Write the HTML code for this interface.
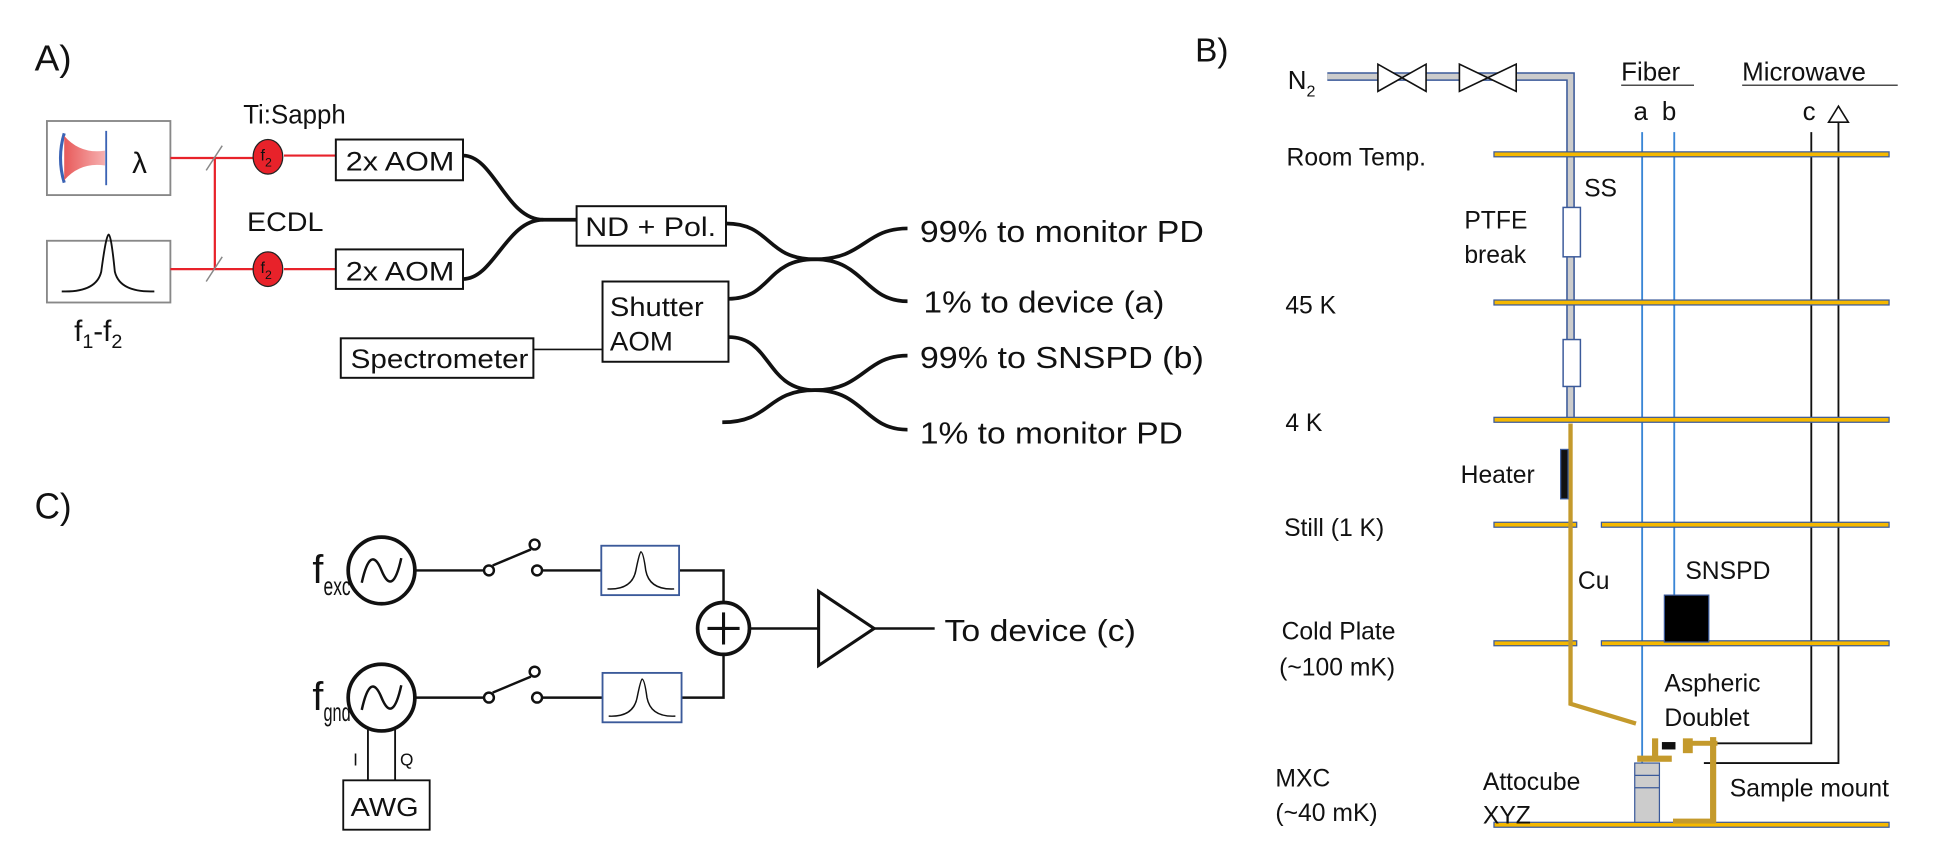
<!DOCTYPE html>
<html><head><meta charset="utf-8"><style>
html,body{margin:0;padding:0;background:#fff;}
svg{display:block;}
text{font-family:"Liberation Sans",sans-serif;fill:#111;}
</style></head><body>
<svg width="1936" height="867" viewBox="0 0 1568 702.2" xmlns="http://www.w3.org/2000/svg">
<defs>
<linearGradient id="beam" x1="0" x2="1"><stop offset="0" stop-color="#e85a5a"/><stop offset="1" stop-color="#f6b0b0"/></linearGradient>
</defs>
<!-- Panel A -->
<text x="28" y="57" font-size="29" textLength="30" lengthAdjust="spacingAndGlyphs">A)</text>
<rect x="38" y="98" width="100" height="60" fill="#fff" stroke="#888" stroke-width="1.5"/>
<path d="M52 108 Q46 128 52 148" fill="none" stroke="#3b63b5" stroke-width="2.5"/>
<path d="M52 110 Q65 125 85 122 L85 134 Q65 131 52 146 Z" fill="url(#beam)"/>
<line x1="86" y1="106" x2="86" y2="150" stroke="#3b63b5" stroke-width="1.5"/>
<text x="107" y="140" font-size="24">λ</text>
<rect x="38" y="195" width="100" height="50" fill="#fff" stroke="#888" stroke-width="1.5"/>
<path d="M50 236 Q78 237 82 220 Q86 190 88 190 Q90 190 93 220 Q97 237 125 236" fill="none" stroke="#111" stroke-width="1.5"/>
<text x="60" y="276" font-size="24">f<tspan font-size="16" dy="6">1</tspan><tspan dy="-6">-f</tspan><tspan font-size="16" dy="6">2</tspan></text>
<g stroke="#e8222a" stroke-width="1.8" fill="none">
<line x1="138" y1="128" x2="205" y2="128"/><line x1="174" y1="128" x2="174" y2="218"/>
<line x1="138" y1="218" x2="205" y2="218"/><line x1="230" y1="126" x2="272" y2="126"/><line x1="230" y1="218" x2="272" y2="218"/>
</g>
<line x1="167" y1="138" x2="180" y2="118" stroke="#888" stroke-width="1.2"/>
<line x1="167" y1="228" x2="180" y2="208" stroke="#888" stroke-width="1.2"/>
<ellipse cx="217" cy="127" rx="12" ry="14" fill="#e8222a" stroke="#222"/>
<ellipse cx="217" cy="218" rx="12" ry="14" fill="#e8222a" stroke="#222"/>
<text x="211" y="130" font-size="13">f<tspan font-size="10" dy="5">2</tspan></text>
<text x="211" y="221" font-size="13">f<tspan font-size="10" dy="5">2</tspan></text>
<text x="197" y="100" font-size="22" textLength="83" lengthAdjust="spacingAndGlyphs">Ti:Sapph</text>
<text x="200" y="187" font-size="22" textLength="62" lengthAdjust="spacingAndGlyphs">ECDL</text>
<g fill="#fff" stroke="#111" stroke-width="1.6">
<rect x="272" y="113" width="103" height="33"/><rect x="272" y="202" width="103" height="32"/>
<rect x="467" y="167" width="121" height="32"/><rect x="276" y="274" width="156" height="32"/>
<rect x="488" y="228" width="102" height="65"/>
</g>
<g font-size="22" lengthAdjust="spacingAndGlyphs">
<text x="280" y="138" textLength="88" lengthAdjust="spacingAndGlyphs">2x AOM</text>
<text x="280" y="227" textLength="88" lengthAdjust="spacingAndGlyphs">2x AOM</text>
<text x="474" y="191" textLength="106" lengthAdjust="spacingAndGlyphs">ND + Pol.</text>
<text x="284" y="298" textLength="144" lengthAdjust="spacingAndGlyphs">Spectrometer</text>
<text x="494" y="256" textLength="76" lengthAdjust="spacingAndGlyphs">Shutter</text>
<text x="494" y="284" textLength="51" lengthAdjust="spacingAndGlyphs">AOM</text>
</g>
<line x1="432" y1="283" x2="488" y2="283" stroke="#111" stroke-width="1.3"/>
<g fill="none" stroke="#111" stroke-width="3">
<path d="M375 126 C400 126 410 178 440 178 L467 178"/>
<path d="M375 226 C400 226 410 178 440 178"/>
<path d="M588 181 C625 181 620 210 660 210 C700 210 700 185 735 185"/>
<path d="M590 242 C625 242 620 210 660 210 C700 210 700 244 735 244"/>
<path d="M590 273 C625 273 620 316 660 316 C700 316 700 288 735 288"/>
<path d="M585 342 C625 342 620 316 660 316 C700 316 700 348 735 348"/>
</g>
<g font-size="25">
<text x="745" y="196" textLength="230" lengthAdjust="spacingAndGlyphs">99% to monitor PD</text>
<text x="748" y="253" textLength="195" lengthAdjust="spacingAndGlyphs">1% to device (a)</text>
<text x="745" y="298" textLength="230" lengthAdjust="spacingAndGlyphs">99% to SNSPD (b)</text>
<text x="745" y="359" textLength="213" lengthAdjust="spacingAndGlyphs">1% to monitor PD</text>
</g>
<!-- Panel C -->
<text x="28" y="420" font-size="29" textLength="30" lengthAdjust="spacingAndGlyphs">C)</text>
<g fill="none" stroke="#111" stroke-width="2">
<circle cx="309" cy="462" r="27" stroke-width="3"/><circle cx="309" cy="565" r="27" stroke-width="3"/>
<path d="M293 472 Q300 440 309 462 Q318 484 325 452"/>
<path d="M293 575 Q300 543 309 565 Q318 587 325 555"/>
<line x1="336" y1="462" x2="392" y2="462"/><line x1="439" y1="462" x2="487" y2="462"/>
<line x1="336" y1="565" x2="392" y2="565"/><line x1="439" y1="565" x2="488" y2="565"/>
<circle cx="396" cy="462" r="4"/><circle cx="435" cy="462" r="4"/><circle cx="433" cy="441" r="4"/>
<circle cx="396" cy="565" r="4"/><circle cx="435" cy="565" r="4"/><circle cx="433" cy="544" r="4"/>
<line x1="399" y1="458" x2="430" y2="445"/><line x1="399" y1="561" x2="430" y2="548"/>
<polyline points="550,462 586,462 586,488"/><polyline points="552,565 586,565 586,530"/>
<circle cx="586" cy="509" r="21" stroke-width="3"/>
<line x1="586" y1="496" x2="586" y2="522" stroke-width="2.5"/><line x1="573" y1="509" x2="599" y2="509" stroke-width="2.5"/>
<line x1="607" y1="509" x2="663" y2="509"/>
<polygon points="663,479 663,539 708,509" stroke-width="2.5"/>
<line x1="708" y1="509" x2="757" y2="509"/>
<line x1="298" y1="591" x2="298" y2="632" stroke-width="1.5"/><line x1="320" y1="591" x2="320" y2="632" stroke-width="1.5"/>
</g>
<rect x="487" y="442" width="63" height="40" fill="#fff" stroke="#3b5a9a" stroke-width="1.5"/>
<rect x="488" y="545" width="64" height="40" fill="#fff" stroke="#3b5a9a" stroke-width="1.5"/>
<path d="M492 477 Q512 478 515 462 Q518 447 519 447 Q521 447 523 462 Q526 478 546 477" fill="none" stroke="#111" stroke-width="1.2"/>
<path d="M493 580 Q513 581 516 565 Q519 550 520 550 Q522 550 524 565 Q527 581 547 580" fill="none" stroke="#111" stroke-width="1.2"/>
<rect x="278" y="632" width="70" height="40" fill="#fff" stroke="#111" stroke-width="1.5"/>
<text x="284" y="661" font-size="21" textLength="55" lengthAdjust="spacingAndGlyphs">AWG</text>
<text x="286" y="620" font-size="14">I</text><text x="324" y="620" font-size="14">Q</text>
<text x="253" y="472" font-size="32">f</text>
<text x="262" y="482" font-size="21" textLength="22" lengthAdjust="spacingAndGlyphs">exc</text>
<text x="253" y="575" font-size="32">f</text>
<text x="262" y="584" font-size="21" textLength="22" lengthAdjust="spacingAndGlyphs">gnd</text>
<text x="765" y="519" font-size="25" textLength="155" lengthAdjust="spacingAndGlyphs">To device (c)</text>
<!-- Panel B -->
<text x="968" y="50" font-size="27">B)</text>
<text x="1043" y="72" font-size="21">N<tspan font-size="13" dy="6">2</tspan></text>
<path d="M1075 62 L1272 62 L1272 340" fill="none" stroke="#3b5a9a" stroke-width="7"/>
<path d="M1075 62 L1272 62 L1272 340" fill="none" stroke="#ccc" stroke-width="4.5"/>
<g fill="#fff" stroke="#111" stroke-width="1.3">
<polygon points="1116,52 1116,74 1155,52 1155,74"/><polygon points="1182,52 1182,74 1228,52 1228,74"/>
</g>
<text x="1313" y="65" font-size="21">Fiber</text>
<line x1="1313" y1="69" x2="1372" y2="69" stroke="#111"/>
<text x="1411" y="65" font-size="21">Microwave</text>
<line x1="1411" y1="69" x2="1537" y2="69" stroke="#111"/>
<text x="1323" y="97" font-size="21">a</text><text x="1346" y="97" font-size="21">b</text><text x="1460" y="97" font-size="21">c</text>
<polygon points="1489,86 1481,99 1497,99" fill="#fff" stroke="#111" stroke-width="1.3"/>
<g fill="none" stroke-width="1.5">
<polyline points="1330,107 1330,620 1340,620" stroke="#3a86d6"/>
<line x1="1356" y1="107" x2="1356" y2="482" stroke="#3a86d6"/>
<polyline points="1467,107 1467,602 1375,602" stroke="#111"/>
<polyline points="1489,99 1489,618 1380,618" stroke="#111"/>
</g>
<g fill="#f5b800" stroke="#3b5a9a" stroke-width="1">
<rect x="1210" y="123" width="320" height="4"/><rect x="1210" y="243" width="320" height="4"/>
<rect x="1210" y="338" width="320" height="4"/>
<rect x="1210" y="423" width="67" height="4"/><rect x="1297" y="423" width="233" height="4"/>
<rect x="1210" y="519" width="67" height="4"/><rect x="1297" y="519" width="233" height="4"/>
<rect x="1210" y="666" width="320" height="4"/>
</g>
<rect x="1266" y="168" width="14" height="40" fill="#fff" stroke="#3b5a9a" stroke-width="1.2"/>
<rect x="1266" y="275" width="14" height="38" fill="#fff" stroke="#3b5a9a" stroke-width="1.2"/>
<polyline points="1272,343 1272,570 1325,586" fill="none" stroke="#c49a2c" stroke-width="3.5"/>
<rect x="1264" y="364" width="6" height="40" fill="#111" stroke="#3b5a9a"/>
<rect x="1348" y="482" width="36" height="38" fill="#000" stroke="#3b5a9a"/>
<g fill="#c49a2c">
<rect x="1326" y="612" width="28" height="5"/><rect x="1338" y="598" width="5" height="16"/>
<rect x="1363" y="598" width="8" height="12"/><rect x="1369" y="600" width="22" height="4"/>
<rect x="1385" y="597" width="5" height="70"/><rect x="1355" y="663" width="34" height="4"/>
</g>
<rect x="1346" y="601" width="11" height="6" fill="#111"/>
<rect x="1324" y="618" width="20" height="48" fill="#ccc" stroke="#3b5a9a"/>
<line x1="1324" y1="628" x2="1344" y2="628" stroke="#3b5a9a"/><line x1="1324" y1="638" x2="1344" y2="638" stroke="#3b5a9a"/>
<g font-size="20">
<text x="1042" y="134">Room Temp.</text><text x="1041" y="254">45 K</text><text x="1041" y="349">4 K</text>
<text x="1040" y="434">Still (1 K)</text><text x="1038" y="518">Cold Plate</text><text x="1036" y="547">(~100 mK)</text>
<text x="1033" y="637">MXC</text><text x="1033" y="665">(~40 mK)</text>
<text x="1283" y="159">SS</text><text x="1186" y="185">PTFE</text><text x="1186" y="213">break</text>
<text x="1183" y="391">Heater</text><text x="1278" y="477">Cu</text><text x="1365" y="469">SNSPD</text>
<text x="1348" y="560">Aspheric</text><text x="1348" y="588">Doublet</text>
<text x="1201" y="640">Attocube</text><text x="1201" y="667">XYZ</text><text x="1401" y="645">Sample mount</text>
</g>
</svg>
</body></html>
